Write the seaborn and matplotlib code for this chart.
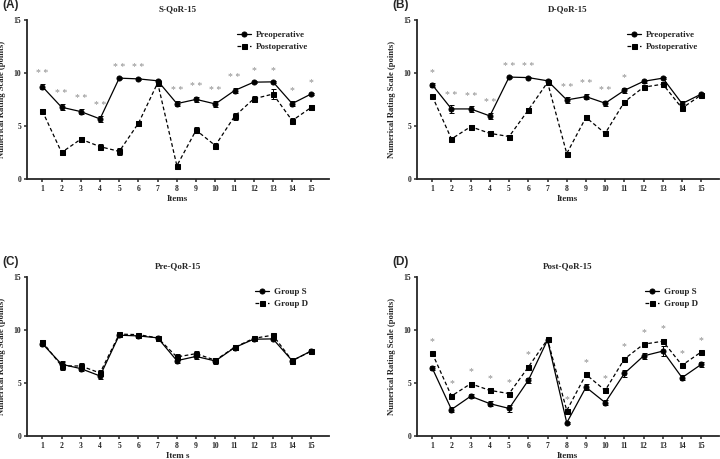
import numpy as np
import pandas as pd
import matplotlib
matplotlib.use('Agg')
import matplotlib.pyplot as plt
import seaborn as sns

# Item means (S = group S, D = group D)
items = list(range(1, 16))
s_pre = [8.7, 6.76, 6.35, 5.66, 9.5, 9.43, 9.25, 7.1, 7.5, 7.07, 8.33, 9.12, 9.15, 7.1, 8.02]
s_post = [6.4, 2.5, 3.75, 3.05, 2.6, 5.25, 9.05, 1.25, 4.6, 3.15, 5.9, 7.55, 8.0, 5.5, 6.75]
d_pre = [8.87, 6.6, 6.6, 5.94, 9.6, 9.55, 9.25, 7.45, 7.76, 7.14, 8.35, 9.2, 9.5, 7.1, 8.0]
d_post = [7.8, 3.77, 4.93, 4.3, 4.0, 6.5, 9.1, 2.4, 5.8, 4.3, 7.26, 8.65, 8.93, 6.67, 7.92]

# standard errors (approx.)
s_pre_se = [0.25, 0.3, 0.25, 0.3, 0.08, 0.08, 0.1, 0.25, 0.25, 0.3, 0.25, 0.12, 0.12, 0.25, 0.1]
s_post_se = [0.2, 0.2, 0.2, 0.25, 0.3, 0.25, 0.2, 0.1, 0.3, 0.2, 0.35, 0.25, 0.45, 0.25, 0.25]
d_pre_se = [0.2, 0.35, 0.25, 0.3, 0.06, 0.06, 0.1, 0.25, 0.25, 0.25, 0.25, 0.12, 0.12, 0.2, 0.1]
d_post_se = [0.15, 0.2, 0.2, 0.2, 0.12, 0.2, 0.15, 0.12, 0.2, 0.2, 0.2, 0.12, 0.2, 0.15, 0.12]

stars_a = ['* *'] * 6 + [''] + ['* *'] * 4 + ['*'] * 4
stars_b = ['*'] + ['* *'] * 5 + [''] + ['* *'] * 3 + ['*'] + [''] * 4
stars_c = [''] * 15
stars_d = ['*'] * 6 + [''] + ['*'] * 8

panels = [
    ('(A)', 'S-QoR-15', 'Items', ('Preoperative', 'Postoperative'),
     (s_pre, s_pre_se), (s_post, s_post_se), stars_a, (0.0375, 0.61)),
    ('(B)', 'D-QoR-15', 'Items', ('Preoperative', 'Postoperative'),
     (d_pre, d_pre_se), (d_post, d_post_se), stars_b, (0.579, 0.61)),
    ('(C)', 'Pre-QoR-15', 'Item s', ('Group S', 'Group D'),
     (s_pre, s_pre_se), (d_pre, d_pre_se), stars_c, (0.0375, 0.05)),
    ('(D)', 'Post-QoR-15', 'Items', ('Group S', 'Group D'),
     (s_post, s_post_se), (d_post, d_post_se), stars_d, (0.579, 0.05)),
]

sns.set_style('ticks')
plt.rcParams['font.family'] = ['Liberation Serif', 'DejaVu Serif']
plt.rcParams['font.weight'] = 'bold'

fig = plt.figure(figsize=(7.2, 4.59), dpi=100)

for tag, title, xlab, names, first, second, stars, (left, bottom) in panels:
    ax = fig.add_axes([left, bottom, 0.419, 0.347])
    df = pd.DataFrame({'item': items * 2,
                       'value': first[0] + second[0],
                       'group': [names[0]] * 15 + [names[1]] * 15})
    sns.lineplot(data=df, x='item', y='value', hue='group', style='group',
                 markers={names[0]: 'o', names[1]: 's'},
                 dashes={names[0]: '', names[1]: (3, 2)},
                 palette=['black', 'black'], markersize=3.6, linewidth=0.9,
                 markeredgecolor='black', ax=ax)
    ax.errorbar(items, first[0], yerr=first[1], fmt='none', ecolor='black',
                elinewidth=0.7, capsize=1.8, capthick=0.7)
    ax.errorbar(items, second[0], yerr=second[1], fmt='none', ecolor='black',
                elinewidth=0.7, capsize=1.8, capthick=0.7)

    for i, st in enumerate(stars):
        if st:
            top = max(first[0][i] + first[1][i], second[0][i] + second[1][i])
            ax.text(items[i], top + 0.95, st, ha='center', va='center',
                    fontsize=7, color='#8a8a8a', fontweight='normal')

    ax.set_xlim(0.2, 15.9)
    ax.set_ylim(0, 15)
    ax.set_xticks(items)
    ax.set_yticks([0, 5, 10, 15])
    ax.tick_params(labelsize=5.5, width=1.1, length=2.5, pad=1.5, direction='out')
    for lab in ax.get_xticklabels() + ax.get_yticklabels():
        lab.set_fontweight('bold')
    for sp in ['left', 'bottom']:
        ax.spines[sp].set_linewidth(1.3)
    sns.despine(ax=ax)

    ax.set_xlabel(xlab, fontsize=6.5, fontweight='bold', labelpad=2)
    ax.set_ylabel('Numerical Rating Scale (points)', fontsize=6.2,
                  fontweight='bold')
    ax.yaxis.set_label_coords(-0.068, 0.5)
    ax.set_title(title, fontsize=6.5, fontweight='bold', pad=6)
    ax.text(-0.08, 1.09, tag, transform=ax.transAxes, fontsize=8.5,
            fontweight='bold', family='Liberation Sans', va='center', ha='left')

    leg = ax.legend(loc='upper right', bbox_to_anchor=(0.96, 0.98), frameon=False,
                    fontsize=6.5, handlelength=1.5, handletextpad=0.6,
                    labelspacing=0.35, title=None)
    for t in leg.get_texts():
        t.set_fontweight('bold')

fig.savefig('out.png', dpi=100)
